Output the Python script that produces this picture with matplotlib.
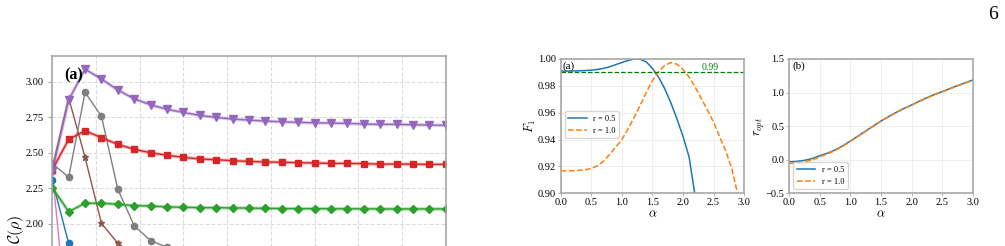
import numpy as np
import matplotlib
matplotlib.use('Agg')
import matplotlib.pyplot as plt

plt.rcParams['font.family'] = 'serif'
plt.rcParams['font.serif'] = ['Liberation Serif', 'DejaVu Serif']
plt.rcParams['mathtext.fontset'] = 'cm'

# ---- left panel, C(rho) ----
rho = [i * 0.375 for i in range(25)]
c_purple = [2.37, 2.871, 3.089, 3.019, 2.942, 2.880, 2.838, 2.806, 2.784, 2.763, 2.749, 2.737, 2.730,
            2.723, 2.718, 2.714, 2.711, 2.709, 2.707, 2.702, 2.700, 2.700, 2.697, 2.695, 2.693]
c_red = [2.38, 2.594, 2.655, 2.606, 2.559, 2.524, 2.500, 2.482, 2.468, 2.456, 2.451, 2.444, 2.439,
         2.435, 2.433, 2.430, 2.428, 2.425, 2.425, 2.423, 2.420, 2.420, 2.420, 2.418, 2.418]
c_green = [2.254, 2.085, 2.144, 2.144, 2.137, 2.127, 2.125, 2.118, 2.116, 2.113, 2.113, 2.111, 2.110,
           2.108, 2.107, 2.106, 2.106, 2.105, 2.105, 2.105, 2.104, 2.104, 2.104, 2.104, 2.104]
c_gray = [2.425, 2.327, 2.925, 2.758, 2.242, 1.986, 1.880, 1.834, 1.80, 1.78, 1.765, 1.755, 1.75,
          1.745, 1.74, 1.74, 1.735, 1.735, 1.73, 1.73, 1.73, 1.73, 1.73, 1.73, 1.73]
c_brown = [2.39, 2.887, 2.468, 2.003, 1.862, 1.78, 1.74, 1.72, 1.71, 1.70, 1.70, 1.69, 1.69,
           1.69, 1.69, 1.69, 1.69, 1.69, 1.69, 1.69, 1.69, 1.69, 1.69, 1.69, 1.69]
c_blue = [2.305, 1.862, 1.60, 1.50, 1.45, 1.43, 1.42, 1.41, 1.41, 1.40, 1.40, 1.40, 1.40,
          1.40, 1.40, 1.40, 1.40, 1.40, 1.40, 1.40, 1.40, 1.40, 1.40, 1.40, 1.40]
c_pink = [2.366, 1.20, 1.05, 1.00, 0.98, 0.97, 0.96, 0.96, 0.96, 0.96, 0.96, 0.96, 0.96,
          0.96, 0.96, 0.96, 0.96, 0.96, 0.96, 0.96, 0.96, 0.96, 0.96, 0.96, 0.96]
c_ticks = [2.00, 2.25, 2.50, 2.75, 3.00]

# ---- right panels ----
alpha = [i / 10 for i in range(31)]
F_r05 = [0.9910, 0.9910, 0.9911, 0.9912, 0.9914, 0.9917, 0.9922, 0.9930, 0.9942, 0.9958, 0.9974,
         0.9989, 0.9999, 0.9998, 0.9978, 0.9930, 0.9865, 0.9780, 0.9675, 0.9555, 0.9425,
         0.9270, 0.8975, 0.8720, 0.8430, 0.8120, 0.7800, 0.7470, 0.7130, 0.6790, 0.6450]
F_r10 = [0.9167, 0.9167, 0.9168, 0.9171, 0.9176, 0.9185, 0.9205, 0.9240, 0.9290, 0.9345, 0.9400,
         0.9480, 0.9565, 0.9655, 0.9752, 0.9840, 0.9905, 0.9952, 0.9973, 0.9962, 0.9922,
         0.9865, 0.9790, 0.9705, 0.9620, 0.9530, 0.9420, 0.9315, 0.9180, 0.8985, 0.8800]
r_opt_05 = [-0.030, -0.027, -0.016, 0.000, 0.025, 0.061, 0.090, 0.125, 0.170, 0.222, 0.279,
            0.338, 0.398, 0.458, 0.518, 0.577, 0.630, 0.682, 0.730, 0.774, 0.815,
            0.860, 0.903, 0.943, 0.980, 1.014, 1.050, 1.086, 1.120, 1.153, 1.187]
r_opt_10 = [-0.053, -0.050, -0.040, -0.022, 0.005, 0.045, 0.080, 0.117, 0.163, 0.217, 0.275,
            0.335, 0.395, 0.455, 0.515, 0.574, 0.627, 0.679, 0.727, 0.771, 0.812,
            0.857, 0.900, 0.940, 0.977, 1.011, 1.047, 1.083, 1.117, 1.150, 1.184]
threshold = 0.99

spine_col = '#a8a8a8'

fig = plt.figure(figsize=(10.05, 2.46), dpi=100)

# left panel (cropped by page)
ax = fig.add_axes([0.052, -0.626, 0.3915, 1.398])
series = [(c_pink, 'tab:pink', 's', 3),
          (c_blue, 'tab:blue', 'o', 4.5),
          (c_brown, 'tab:brown', '*', 5),
          (c_gray, 'tab:gray', 'o', 4.5),
          (c_green, 'tab:green', 'D', 4.5),
          (c_red, 'tab:red', 's', 5),
          (c_purple, 'tab:purple', 'v', 5.5)]
for vals, col, mk, ms in series:
    if col in ('tab:green', 'tab:red', 'tab:purple'):
        ax.plot(rho, vals, color=col, lw=2.5, alpha=0.35)
    ax.plot(rho, vals, color=col, lw=1.0, marker=mk, ms=ms)
ax.set_xlim(0, 9)
ax.set_ylim(0.758, 3.181)
ax.set_xticks(range(10))
ax.set_xticklabels([])
ax.set_yticks(c_ticks)
ax.set_yticklabels(['%.2f' % v for v in c_ticks])
ax.tick_params(labelsize=7.5, length=3, color=spine_col)
ax.grid(True, ls='--', color='#dddddd', lw=0.8)
ax.set_ylabel(r'$\mathcal{C}(\rho)$', fontsize=11.5)
ax.yaxis.set_label_coords(-0.066, 0.497)
ax.text(0.03, 0.945, '(a)', transform=ax.transAxes, fontsize=11.5, fontweight='bold', va='center')
for s in ax.spines.values():
    s.set_color(spine_col)
    s.set_linewidth(1.2)

# right panel (a)
ax1 = fig.add_axes([0.558, 0.2142, 0.1824, 0.546])
ax1.plot(alpha, F_r05, color='tab:blue', lw=1.1, label='r = 0.5')
ax1.plot(alpha, F_r10, color='tab:orange', lw=1.1, ls='--', label='r = 1.0')
ax1.axhline(threshold, color='green', ls='--', lw=0.9)
ax1.text(2.3, 0.9937, '0.99', color='green', fontsize=7, va='center')
ax1.set_xlim(0, 3)
ax1.set_ylim(0.90, 1.00)
ax1.set_xticks(np.arange(0, 3.01, 0.5))
ax1.set_yticks(np.arange(0.90, 1.001, 0.02))
ax1.set_xlabel(r'$\alpha$', fontsize=9, labelpad=1)
ax1.set_ylabel(r'$F_1$', fontsize=9)
ax1.yaxis.set_label_coords(-0.125, 0.5)
ax1.text(0.01, 0.945, '(a)', transform=ax1.transAxes, fontsize=8, va='center')
ax1.legend(loc='center left', bbox_to_anchor=(0.0, 0.51), fontsize=6, handlelength=2.2, frameon=True)

# right panel (b)
ax2 = fig.add_axes([0.7854, 0.2142, 0.1825, 0.546])
ax2.plot(alpha, r_opt_05, color='tab:blue', lw=1.1, label='r = 0.5')
ax2.plot(alpha, r_opt_10, color='tab:orange', lw=1.1, ls='--', label='r = 1.0')
ax2.set_xlim(0, 3)
ax2.set_ylim(-0.5, 1.5)
ax2.set_xticks(np.arange(0, 3.01, 0.5))
ax2.set_yticks(np.arange(-0.5, 1.51, 0.5))
ax2.set_xlabel(r'$\alpha$', fontsize=9, labelpad=1)
ax2.set_ylabel(r'$r_{opt}$', fontsize=9)
ax2.yaxis.set_label_coords(-0.12, 0.5)
ax2.text(0.02, 0.945, '(b)', transform=ax2.transAxes, fontsize=8, va='center')
ax2.legend(loc='lower left', fontsize=6, handlelength=2.2, frameon=True)

for a in (ax1, ax2):
    a.grid(True, color='#ececec', lw=0.6)
    a.tick_params(labelsize=7.5, length=2, width=0.6, pad=1.5, color=spine_col)
    for s in a.spines.values():
        s.set_color(spine_col)
        s.set_linewidth(1.2)

fig.text(0.988, 0.94, '6', fontsize=14, ha='center', va='center')

fig.savefig('out.png', dpi=100)
